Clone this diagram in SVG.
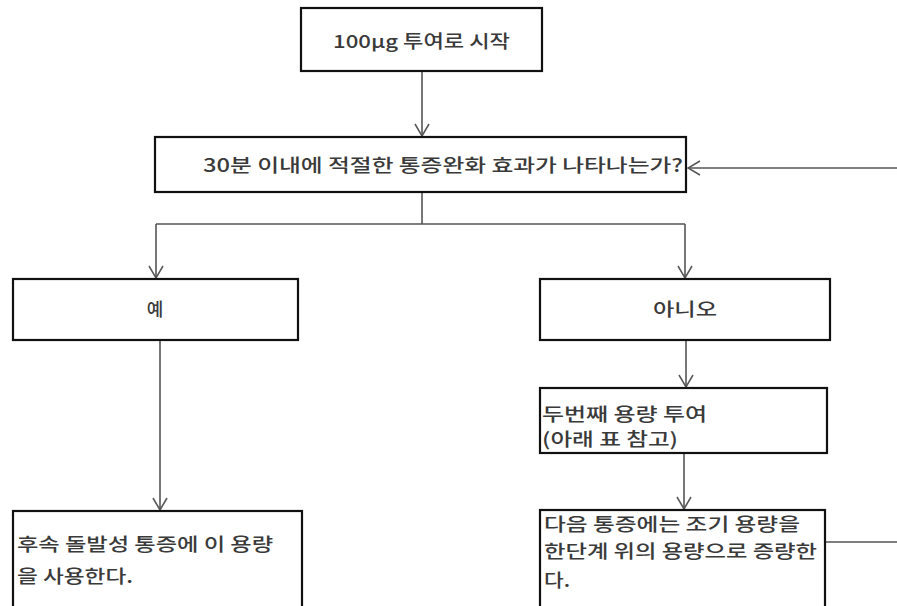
<svg xmlns="http://www.w3.org/2000/svg" width="897" height="606" viewBox="0 0 897 606">
<defs>
<marker id="arr" markerUnits="userSpaceOnUse" markerWidth="14" markerHeight="16" viewBox="0 0 14 16" refX="13" refY="8" orient="auto">
<path d="M1,1 L13,8 L1,15" fill="none" stroke="#555" stroke-width="1.5"/>
</marker>
<style>
.box{fill:#fff;stroke:#111;stroke-width:2.2}
.t{font-family:"Noto Sans CJK KR","Malgun Gothic",sans-serif;font-size:18px;font-weight:500;fill:#3a3a3a}
.c{fill:none;stroke:#555;stroke-width:1.6}
</style>
</defs>
<rect width="897" height="606" fill="#fff"/>
<g id="connectors">
<line class="c" x1="422" y1="71" x2="422" y2="136" marker-end="url(#arr)"/>
<polyline class="c" points="422,193 422,224"/>
<polyline class="c" points="156,224 685,224"/>
<line class="c" x1="156" y1="224" x2="156" y2="278" marker-end="url(#arr)"/>
<line class="c" x1="685" y1="224" x2="685" y2="278" marker-end="url(#arr)"/>
<line class="c" x1="897" y1="168" x2="688" y2="168" marker-end="url(#arr)"/>
<line class="c" x1="160" y1="341" x2="160" y2="510" marker-end="url(#arr)"/>
<line class="c" x1="686" y1="341" x2="686" y2="387" marker-end="url(#arr)"/>
<line class="c" x1="684" y1="454" x2="684" y2="509" marker-end="url(#arr)"/>
<line class="c" x1="826" y1="542" x2="897" y2="542"/>
</g>
<g id="start">
<rect class="box" x="301" y="8" width="241" height="63"/>
<text class="t" x="333" y="48" textLength="177" lengthAdjust="spacingAndGlyphs">100µg 투여로 시작</text>
</g>
<g id="decision">
<rect class="box" x="155" y="137" width="531" height="55"/>
<text class="t" x="203" y="172" textLength="480" lengthAdjust="spacingAndGlyphs">30분 이내에 적절한 통증완화 효과가 나타나는가?</text>
</g>
<g id="yes">
<rect class="box" x="13" y="279" width="285" height="61"/>
<text class="t" x="155" y="316" text-anchor="middle">예</text>
</g>
<g id="no">
<rect class="box" x="540" y="279" width="290" height="61"/>
<text class="t" x="653" y="316" textLength="64" lengthAdjust="spacingAndGlyphs">아니오</text>
</g>
<g id="second-dose">
<rect class="box" x="540" y="388" width="287" height="65"/>
<text class="t" x="542" y="421" textLength="165" lengthAdjust="spacingAndGlyphs">두번째 용량 투여</text>
<text class="t" x="542" y="446" textLength="136" lengthAdjust="spacingAndGlyphs">(아래 표 참고)</text>
</g>
<g id="increase">
<rect class="box" x="540" y="510" width="285" height="110"/>
<text class="t" x="544" y="531" textLength="256" lengthAdjust="spacingAndGlyphs">다음 통증에는 조기 용량을</text>
<text class="t" x="544" y="558" textLength="273" lengthAdjust="spacingAndGlyphs">한단계 위의 용량으로 증량한</text>
<text class="t" x="544" y="587" textLength="26" lengthAdjust="spacingAndGlyphs">다.</text>
</g>
<g id="reuse">
<rect class="box" x="13" y="511" width="289" height="110"/>
<text class="t" x="17" y="551" textLength="256" lengthAdjust="spacingAndGlyphs">후속 돌발성 통증에 이 용량</text>
<text class="t" x="17" y="583" textLength="116" lengthAdjust="spacingAndGlyphs">을 사용한다.</text>
</g>
</svg>
